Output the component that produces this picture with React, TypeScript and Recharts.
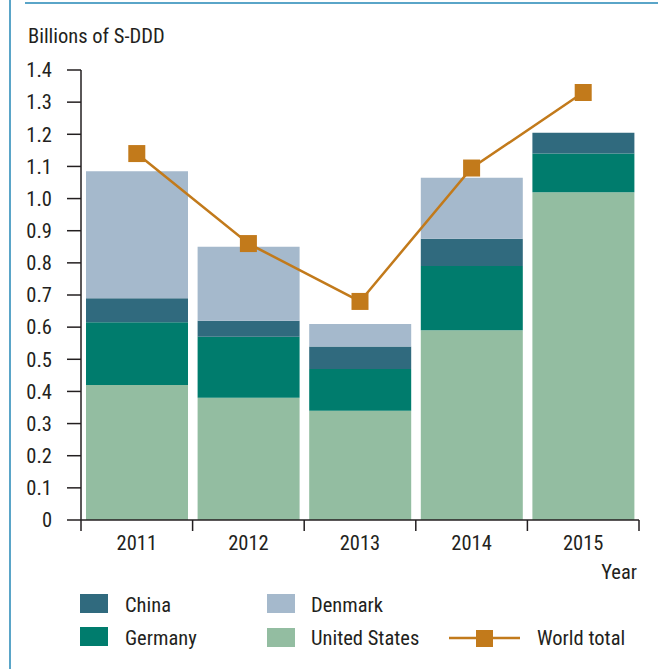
import { Bar, ComposedChart, Line, XAxis, YAxis } from 'recharts'

const years = ['2011', '2012', '2013', '2014', '2015']
const unitedStates = [0.42, 0.38, 0.34, 0.59, 1.02]
const germany = [0.195, 0.19, 0.13, 0.2, 0.12]
const china = [0.075, 0.05, 0.07, 0.085, 0.065]
const denmark = [0.395, 0.23, 0.07, 0.19, 0]
const worldTotal = [1.14, 0.86, 0.68, 1.095, 1.33]
const yTicks = [0, 0.1, 0.2, 0.3, 0.4, 0.5, 0.6, 0.7, 0.8, 0.9, 1.0, 1.1, 1.2, 1.3, 1.4]

const data = years.map((year, i) => ({
	year,
	us: unitedStates[i],
	germany: germany[i],
	china: china[i],
	denmark: denmark[i],
	world: worldTotal[i],
}))

const FONT = "Roboto, 'Liberation Sans', sans-serif"
const TXT = { fontFamily: FONT, fontSize: 20.5, fontStretch: 'condensed' as const }
const INK = '#231f20'
const C_CHINA = '#306a7e'
const C_GERMANY = '#007c6d'
const C_DENMARK = '#a5b9cc'
const C_US = '#93bda1'
const C_WORLD = '#c27a1b'
const C_FRAME = '#5aa5c8'

const W = 661
const H = 669
const PLOT_LEFT = 81
const PLOT_RIGHT = 639
const AXIS_Y = 520
const BAND = (PLOT_RIGHT - PLOT_LEFT) / years.length

function YearTick(props: any) {
	const { x, payload, index } = props
	const left = x - BAND / 2
	return (
		<g>
			<line x1={left} x2={left} y1={AXIS_Y} y2={AXIS_Y + 11} stroke={INK} strokeWidth={1.5} />
			{index === years.length - 1 && (
				<line x1={x + BAND / 2} x2={x + BAND / 2} y1={AXIS_Y} y2={AXIS_Y + 11} stroke={INK} strokeWidth={1.5} />
			)}
			<text x={x} y={AXIS_Y + 30} textAnchor="middle" style={TXT} fill={INK}>
				{payload.value}
			</text>
		</g>
	)
}

function SquareDot(props: any) {
	const { cx, cy } = props
	if (cx == null || cy == null) return null
	return <rect x={cx - 8.5} y={cy - 8.5} width={17} height={17} fill={C_WORLD} />
}

// legend sits below the plot, drawn by hand (recharts' Legend would eat plot height)
function ChartLegend() {
	const swatch = (x: number, y: number, fill: string) => <rect x={x} y={y} width={28} height={19} fill={fill} />
	const label = (x: number, y: number, s: string) => (
		<text x={x} y={y} style={TXT} fill={INK}>
			{s}
		</text>
	)
	return (
		<svg width={W} height={80} style={{ position: 'absolute', left: 0, top: 580 }}>
			{swatch(80, 14, C_CHINA)}
			{label(125, 32, 'China')}
			{swatch(80, 47, C_GERMANY)}
			{label(125, 65, 'Germany')}
			{swatch(267, 14, C_DENMARK)}
			{label(311, 32, 'Denmark')}
			{swatch(267, 48, C_US)}
			{label(311, 65, 'United States')}
			<line x1={449} x2={520} y1={58} y2={58} stroke={C_WORLD} strokeWidth={2.5} />
			<rect x={476} y={50} width={17} height={17} fill={C_WORLD} />
			{label(537, 65, 'World total')}
		</svg>
	)
}

export default function App() {
	return (
		<div style={{ position: 'absolute', left: 0, top: 0, width: W, height: H, background: '#fff' }}>
			<div style={{ position: 'absolute', left: 25, top: 2, width: 633, height: 2, background: C_FRAME }} />
			<div style={{ position: 'absolute', left: 9, top: 0, width: 2, height: H, background: C_FRAME }} />
			<ComposedChart
				width={W}
				height={H}
				data={data}
				margin={{ top: 70, right: W - PLOT_RIGHT, bottom: 0, left: 0 }}
				barCategoryGap={5}
			>
				<XAxis
					dataKey="year"
					height={H - AXIS_Y}
					stroke={INK}
					strokeWidth={1.5}
					tickLine={false}
					tick={<YearTick />}
					interval={0}
					label={() => (
						<text x={637} y={579} textAnchor="end" style={TXT} fill={INK}>
							Year
						</text>
					)}
				/>
				<YAxis
					width={PLOT_LEFT}
					domain={[0, 1.4]}
					ticks={yTicks}
					interval={0}
					stroke={INK}
					strokeWidth={1.5}
					tickSize={14}
					tickMargin={15}
					tickFormatter={(v: number) => (v === 0 ? '0' : v.toFixed(1))}
					tick={{ style: TXT, fill: INK }}
					label={() => (
						<text x={28} y={43} style={TXT} fill={INK}>
							Billions of S-DDD
						</text>
					)}
				/>
				<Bar dataKey="us" stackId="a" fill={C_US} isAnimationActive={false} />
				<Bar dataKey="germany" stackId="a" fill={C_GERMANY} isAnimationActive={false} />
				<Bar dataKey="china" stackId="a" fill={C_CHINA} isAnimationActive={false} />
				<Bar dataKey="denmark" stackId="a" fill={C_DENMARK} isAnimationActive={false} />
				<Line
					dataKey="world"
					stroke={C_WORLD}
					strokeWidth={2.5}
					dot={<SquareDot />}
					activeDot={false}
					isAnimationActive={false}
				/>
			</ComposedChart>
			<ChartLegend />
		</div>
	)
}
